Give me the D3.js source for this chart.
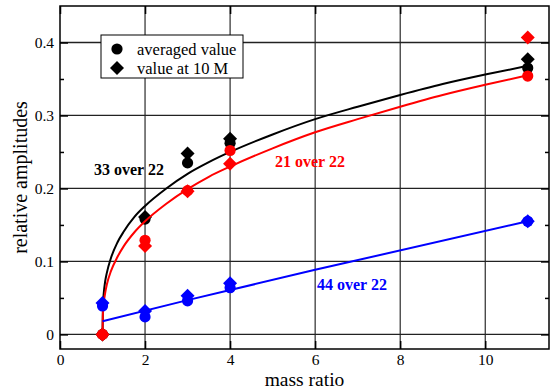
<!DOCTYPE html>
<html>
<head>
<meta charset="utf-8">
<script src="https://cdn.jsdelivr.net/npm/d3@7"></script>
<style>
  html, body { margin: 0; padding: 0; background: #fff; }
  svg { display: block; }
  text { font-family: "Liberation Serif", "Times New Roman", serif; }
</style>
</head>
<body>
<svg id="chart" width="555" height="388"></svg>
<script>
// Measured amplitudes versus mass ratio
const massRatio = [1, 2, 3, 4, 11];
const avg33   = [0, 0.158, 0.235, 0.262, 0.365];
const at10M33 = [0, 0.161, 0.248, 0.268, 0.377];
const avg21   = [0, 0.129, 0.197, 0.252, 0.354];
const at10M21 = [0, 0.121, 0.196, 0.234, 0.407];
const avg44   = [0.039, 0.024, 0.046, 0.064, 0.155];
const at10M44 = [0.043, 0.032, 0.053, 0.070, 0.155];

// Fitted trend curves
const fitX  = [1, 1.01, 1.03, 1.06, 1.1, 1.2, 1.35, 1.5, 1.75, 2, 2.5, 3, 3.5, 4, 5, 6, 7, 8, 9, 10, 11];
const fit33 = [0, 0.040, 0.057, 0.072, 0.084, 0.105, 0.126, 0.141, 0.161, 0.176, 0.200, 0.220, 0.236, 0.250, 0.274, 0.295, 0.312, 0.328, 0.343, 0.356, 0.368];
const fit21 = [0, 0.030, 0.044, 0.056, 0.068, 0.087, 0.106, 0.121, 0.140, 0.155, 0.179, 0.199, 0.216, 0.230, 0.255, 0.277, 0.295, 0.312, 0.328, 0.342, 0.355];
const fit44X = [1, 3, 6, 11];
const fit44  = [0.018, 0.047, 0.0885, 0.155];

// Axis ticks
const xTicks = [0, 2, 4, 6, 8, 10];
const yTicks = [0, 0.1, 0.2, 0.3, 0.4];
const yMinorTicks = [0.05, 0.15, 0.25, 0.35];
const xTickLabels = ["0", "2", "4", "6", "8", "10"];
const yTickLabels = ["0", "0.1", "0.2", "0.3", "0.4"];

const serif = "'Liberation Serif', 'Times New Roman', serif";
const svg = d3.select("#chart");
const plot = { left: 60, right: 549, top: 6, bottom: 349 };

const x = d3.scaleLinear().domain([0, 11.5]).range([plot.left, plot.right]);
const y = d3.scaleLinear().domain([-0.02, 0.45]).range([plot.bottom, plot.top]);

// Grid
const grid = svg.append("g");
grid.selectAll("line.gx").data(xTicks.slice(1)).join("line")
  .attr("x1", d => x(d)).attr("x2", d => x(d))
  .attr("y1", plot.top).attr("y2", plot.bottom)
  .attr("stroke", "#000").attr("stroke-width", 1);
grid.selectAll("line.gy").data(yTicks).join("line")
  .attr("x1", plot.left).attr("x2", plot.right)
  .attr("y1", d => y(d)).attr("y2", d => y(d))
  .attr("stroke", "#222").attr("stroke-width", 1.3);

// Axes with inward ticks
const axisG = svg.append("g");
axisG.append("g").attr("transform", `translate(0,${plot.bottom})`)
  .call(d3.axisBottom(x).tickValues(xTicks).tickSizeInner(-8).tickSizeOuter(0)
    .tickPadding(5).tickFormat((d, i) => xTickLabels[i]))
  .call(g => g.select(".domain").remove());
axisG.append("g").attr("transform", `translate(0,${plot.top})`)
  .call(d3.axisTop(x).tickValues(xTicks).tickSizeInner(-8).tickSizeOuter(0).tickFormat(""))
  .call(g => g.select(".domain").remove());
axisG.append("g").attr("transform", `translate(${plot.left},0)`)
  .call(d3.axisLeft(y).tickValues(yTicks).tickSizeInner(-8).tickSizeOuter(0)
    .tickPadding(6).tickFormat((d, i) => yTickLabels[i]))
  .call(g => g.select(".domain").remove());
axisG.append("g").attr("transform", `translate(${plot.left},0)`)
  .call(d3.axisLeft(y).tickValues(yMinorTicks).tickSizeInner(-4).tickSizeOuter(0).tickFormat(""))
  .call(g => g.select(".domain").remove());
axisG.append("g").attr("transform", `translate(${plot.right},0)`)
  .call(d3.axisRight(y).tickValues(yTicks).tickSizeInner(-8).tickSizeOuter(0).tickFormat(""))
  .call(g => g.select(".domain").remove());
axisG.append("g").attr("transform", `translate(${plot.right},0)`)
  .call(d3.axisRight(y).tickValues(yMinorTicks).tickSizeInner(-4).tickSizeOuter(0).tickFormat(""))
  .call(g => g.select(".domain").remove());
axisG.selectAll("g").attr("font-family", serif);
axisG.selectAll(".tick line").attr("stroke", "#000").attr("stroke-width", 1.5);
axisG.selectAll(".tick text").attr("font-size", 15.5).attr("fill", "#000")
  .attr("font-family", serif);

// Frame
svg.append("rect")
  .attr("x", plot.left).attr("y", plot.top)
  .attr("width", plot.right - plot.left).attr("height", plot.bottom - plot.top)
  .attr("fill", "none").attr("stroke", "#000").attr("stroke-width", 1.5);

// Axis titles
svg.append("text").attr("x", (plot.left + plot.right) / 2).attr("y", 385.5)
  .attr("text-anchor", "middle").attr("font-size", 19.5).attr("font-family", serif)
  .text("mass ratio");
svg.append("text")
  .attr("transform", `translate(27,${(plot.top + plot.bottom) / 2}) rotate(-90)`)
  .attr("text-anchor", "middle").attr("font-size", 20).attr("font-family", serif)
  .text("relative amplitudes");

const diamond = s => `M0,${-s}L${s},0L0,${s}L${-s},0Z`;
const line = d3.line().x(d => x(d[0])).y(d => y(d[1])).curve(d3.curveMonotoneX);

function drawSeries(color, avg, at10, fx, fy) {
  const g = svg.append("g");
  g.selectAll("circle").data(massRatio.map((m, i) => [m, avg[i]])).join("circle")
    .attr("cx", d => x(d[0])).attr("cy", d => y(d[1])).attr("r", 5.6).attr("fill", color);
  g.selectAll("path.dm").data(massRatio.map((m, i) => [m, at10[i]])).join("path")
    .attr("class", "dm")
    .attr("transform", d => `translate(${x(d[0])},${y(d[1])})`)
    .attr("d", diamond(7)).attr("fill", color);
  g.append("path").datum(fx.map((v, i) => [v, fy[i]]))
    .attr("d", line).attr("fill", "none").attr("stroke", color).attr("stroke-width", 2);
}

drawSeries("#000", avg33, at10M33, fitX, fit33);
drawSeries("#ff0000", avg21, at10M21, fitX, fit21);
drawSeries("#0000ff", avg44, at10M44, fit44X, fit44);

// Series labels
const labels = [
  { text: "33 over 22", color: "#000", x: 94, y: 175 },
  { text: "21 over 22", color: "#ff0000", x: 275, y: 166.5 },
  { text: "44 over 22", color: "#0000ff", x: 317, y: 290 }
];
svg.selectAll("text.series").data(labels).join("text")
  .attr("class", "series")
  .attr("x", d => d.x).attr("y", d => d.y)
  .attr("fill", d => d.color).attr("font-size", 16).attr("font-weight", "bold")
  .attr("font-family", serif)
  .text(d => d.text);

// Legend
const legend = svg.append("g");
legend.append("rect").attr("x", 101).attr("y", 35).attr("width", 142).attr("height", 43)
  .attr("fill", "#fff").attr("stroke", "#000").attr("stroke-width", 1);
legend.append("circle").attr("cx", 117).attr("cy", 49).attr("r", 5.6).attr("fill", "#000");
legend.append("path").attr("transform", "translate(117,68)").attr("d", diamond(7)).attr("fill", "#000");
legend.append("text").attr("x", 137).attr("y", 54.5).attr("font-size", 16.5).attr("font-family", serif)
  .text("averaged value");
legend.append("text").attr("x", 137).attr("y", 73.5).attr("font-size", 16.5).attr("font-family", serif)
  .text("value at 10 M");
</script>
</body>
</html>
